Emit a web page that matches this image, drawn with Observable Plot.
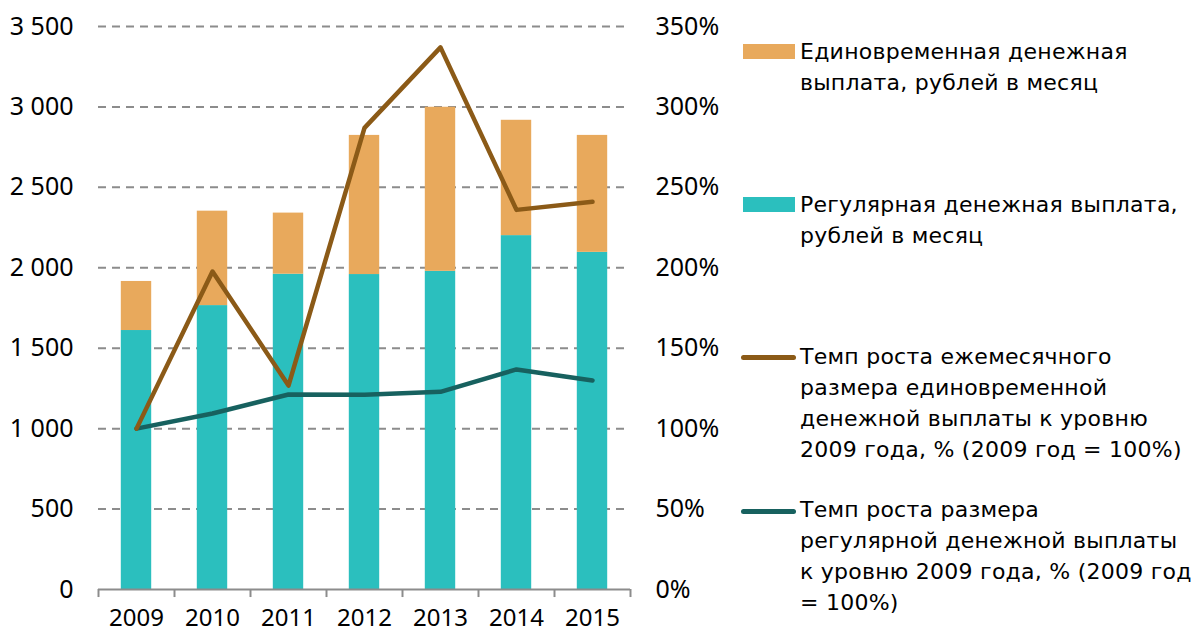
<!DOCTYPE html>
<html><head><meta charset="utf-8">
<script src="https://cdn.jsdelivr.net/npm/d3@7"></script>
<script src="https://cdn.jsdelivr.net/npm/@observablehq/plot@0.6"></script>
<style>
body{margin:0;background:#fff;}
#wrap{position:relative;width:1200px;height:632px;overflow:hidden;background:#fff;}
#chart{position:absolute;left:0;top:0;}
.leg{position:absolute;left:800px;font-family:"DejaVu Sans",sans-serif;font-size:22px;letter-spacing:0.25px;line-height:31px;color:#000;white-space:nowrap;}
.sw{position:absolute;}
</style></head>
<body>
<div id="wrap"><div id="chart"></div><div id="legend"></div></div>
<script>
// ---- data ----
const years = [2009, 2010, 2011, 2012, 2013, 2014, 2015];
const regular = [1610, 1765, 1960, 1958, 1978, 2200, 2096];        // регулярная выплата, руб./мес.
const lumpSum = [305, 587, 380, 865, 1020, 717, 727];              // единовременная выплата, руб./мес.
const lumpGrowth = [100, 197.7, 126.8, 287, 337, 236, 241];        // %
const regularGrowth = [100, 109.4, 121.2, 121, 122.9, 136.8, 129.9]; // %
const leftTicks = [0, 500, 1000, 1500, 2000, 2500, 3000, 3500];
const rightTicks = [0, 50, 100, 150, 200, 250, 300, 350];
const legendLabels = [
  "Единовременная денежная<br>выплата, рублей в месяц",
  "Регулярная денежная выплата,<br>рублей в месяц",
  "Темп роста ежемесячного<br>размера единовременной<br>денежной выплаты к уровню<br>2009 года, % (2009 год = 100%)",
  "Темп роста размера<br>регулярной денежной выплаты<br>к уровню 2009 года, % (2009 год<br>= 100%)"
];

const colors = {lump: "#E8A95C", regular: "#2BBFBE", lumpLine: "#8B5A17", regLine: "#17615F", grid: "#8C8C8C"};
const pctScale = 3500 / 350; // right axis (%) mapped onto left axis units

const table = years.map((year, i) => ({
  year, regular: regular[i], lump: lumpSum[i],
  lumpGrowth: lumpGrowth[i], regularGrowth: regularGrowth[i]
}));
const boundaries = years.map(y => y - 0.5).concat([years[years.length - 1] + 0.5]);
const half = 0.2;
const fmt = d => d >= 1000 ? Math.floor(d / 1000) + " " + String(d % 1000).padStart(3, "0") : String(d);

const chart = Plot.plot({
  width: 720, height: 632,
  marginLeft: 98, marginRight: 90, marginTop: 26, marginBottom: 43,
  x: {domain: [years[0] - 0.5, years[years.length - 1] + 0.5]},
  y: {domain: [0, 3500]},
  style: {fontFamily: "'Noto Sans', sans-serif", fontSize: "25px", color: "#000", background: "transparent", overflow: "visible"},
  marks: [
    Plot.ruleY(leftTicks.filter(d => d > 0), {stroke: colors.grid, strokeWidth: 2, strokeDasharray: "8,6"}),
    Plot.rectY(table, {x1: d => d.year - half, x2: d => d.year + half, y1: 0, y2: "regular", fill: colors.regular}),
    Plot.rectY(table, {x1: d => d.year - half, x2: d => d.year + half, y1: "regular", y2: d => d.regular + d.lump, fill: colors.lump}),
    Plot.ruleY([0], {stroke: colors.grid, strokeWidth: 2}),
    Plot.ruleX(boundaries, {y1: 0, y2: -50, stroke: colors.grid, strokeWidth: 2}),
    Plot.line(table, {x: "year", y: d => d.regularGrowth * pctScale, stroke: colors.regLine, strokeWidth: 4.5, strokeLinecap: "round", strokeLinejoin: "round"}),
    Plot.line(table, {x: "year", y: d => d.lumpGrowth * pctScale, stroke: colors.lumpLine, strokeWidth: 4.5, strokeLinecap: "round", strokeLinejoin: "round"}),
    Plot.axisY({ticks: leftTicks, tickFormat: fmt, tickSize: 0, tickPadding: 25, anchor: "left", label: null}),
    Plot.axisY({ticks: rightTicks.map(d => d * pctScale), tickFormat: d => Math.round(d / pctScale) + "%", tickSize: 0, tickPadding: 25, anchor: "right", label: null, textAnchor: "start"}),
    Plot.axisX({ticks: years, tickFormat: d => String(d), tickSize: 0, tickPadding: 19, fontSize: 24, label: null})
  ]
});
document.getElementById("chart").appendChild(chart);

// ---- legend ----
const legend = document.getElementById("legend");
const entries = [
  {type: "box", color: colors.lump, swTop: 44, textTop: 36},
  {type: "box", color: colors.regular, swTop: 197, textTop: 189},
  {type: "line", color: colors.lumpLine, swTop: 355, textTop: 341},
  {type: "line", color: colors.regLine, swTop: 509, textTop: 494}
];
entries.forEach((e, i) => {
  const sw = document.createElement("div");
  sw.className = "sw";
  if (e.type === "box") {
    Object.assign(sw.style, {left: "743px", top: e.swTop + "px", width: "52px", height: "15px", background: e.color});
  } else {
    Object.assign(sw.style, {left: "741px", top: e.swTop + "px", width: "55px", height: "4.5px", borderRadius: "3px", background: e.color});
  }
  legend.appendChild(sw);
  const t = document.createElement("div");
  t.className = "leg";
  t.style.top = e.textTop + "px";
  t.innerHTML = legendLabels[i];
  legend.appendChild(t);
});
</script>
</body></html>
